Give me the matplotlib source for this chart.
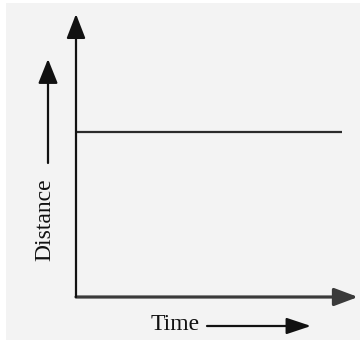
import matplotlib.pyplot as plt
from matplotlib.patches import Rectangle

plt.rcParams['font.family'] = ['Liberation Serif', 'DejaVu Serif']

# constant distance over time (fractions of the axis length)
time = [0.0, 0.943]
distance = [0.583, 0.583]
x_label = 'Time'
y_label = 'Distance'

W, H = 362, 343
fig = plt.figure(figsize=(W / 100, H / 100), dpi=100)
fig.patch.set_facecolor('white')

# background panel, pixel coords with y going down
bg = fig.add_axes([0, 0, 1, 1])
bg.set_xlim(0, W)
bg.set_ylim(H, 0)
bg.axis('off')
bg.add_patch(Rectangle((6, 3), 354, 337, facecolor='#f3f3f3', edgecolor='none'))

# main plot area: origin at (76, 297), arrow tips at x=358 and y=14
x0, y0, x1, y1 = 76, 297, 358, 14
ax = fig.add_axes([x0 / W, 1 - y0 / H, (x1 - x0) / W, (y0 - y1) / H])
ax.set_xlim(0, 1)
ax.set_ylim(0, 1)
ax.patch.set_alpha(0)
for s in ax.spines.values():
    s.set_visible(False)
ax.set_xticks([])
ax.set_yticks([])

ax.plot(time, distance, color='#2b2b2b', lw=1.6, solid_capstyle='butt')

# axis arrows
ax.annotate('', xy=(1, 0), xytext=(0, 0), xycoords='axes fraction', annotation_clip=False,
            arrowprops=dict(arrowstyle='-|>,head_length=0.72,head_width=0.27', mutation_scale=20,
                            color='#3a3a3a', lw=2.3, shrinkA=0, shrinkB=0))
ax.annotate('', xy=(0, 1), xytext=(0, 0), xycoords='axes fraction', annotation_clip=False,
            arrowprops=dict(arrowstyle='-|>,head_length=0.75,head_width=0.29', mutation_scale=20,
                            color='#111111', lw=1.6, shrinkA=0, shrinkB=0))

# labels with their own arrows
bg.text(45, 220, y_label, rotation=90, ha='center', va='center', fontsize=17, color='#111111')
bg.annotate('', xy=(48, 59), xytext=(48, 163),
            arrowprops=dict(arrowstyle='-|>,head_length=0.75,head_width=0.3', mutation_scale=20,
                            color='#111111', lw=1.6, shrinkA=0, shrinkB=0))

bg.text(175, 325, x_label, ha='center', va='center', fontsize=17, color='#111111')
bg.annotate('', xy=(311, 326), xytext=(207, 326),
            arrowprops=dict(arrowstyle='-|>,head_length=0.75,head_width=0.25', mutation_scale=20,
                            color='#111111', lw=1.6, shrinkA=0, shrinkB=0))

fig.savefig('out.png', dpi=100)
